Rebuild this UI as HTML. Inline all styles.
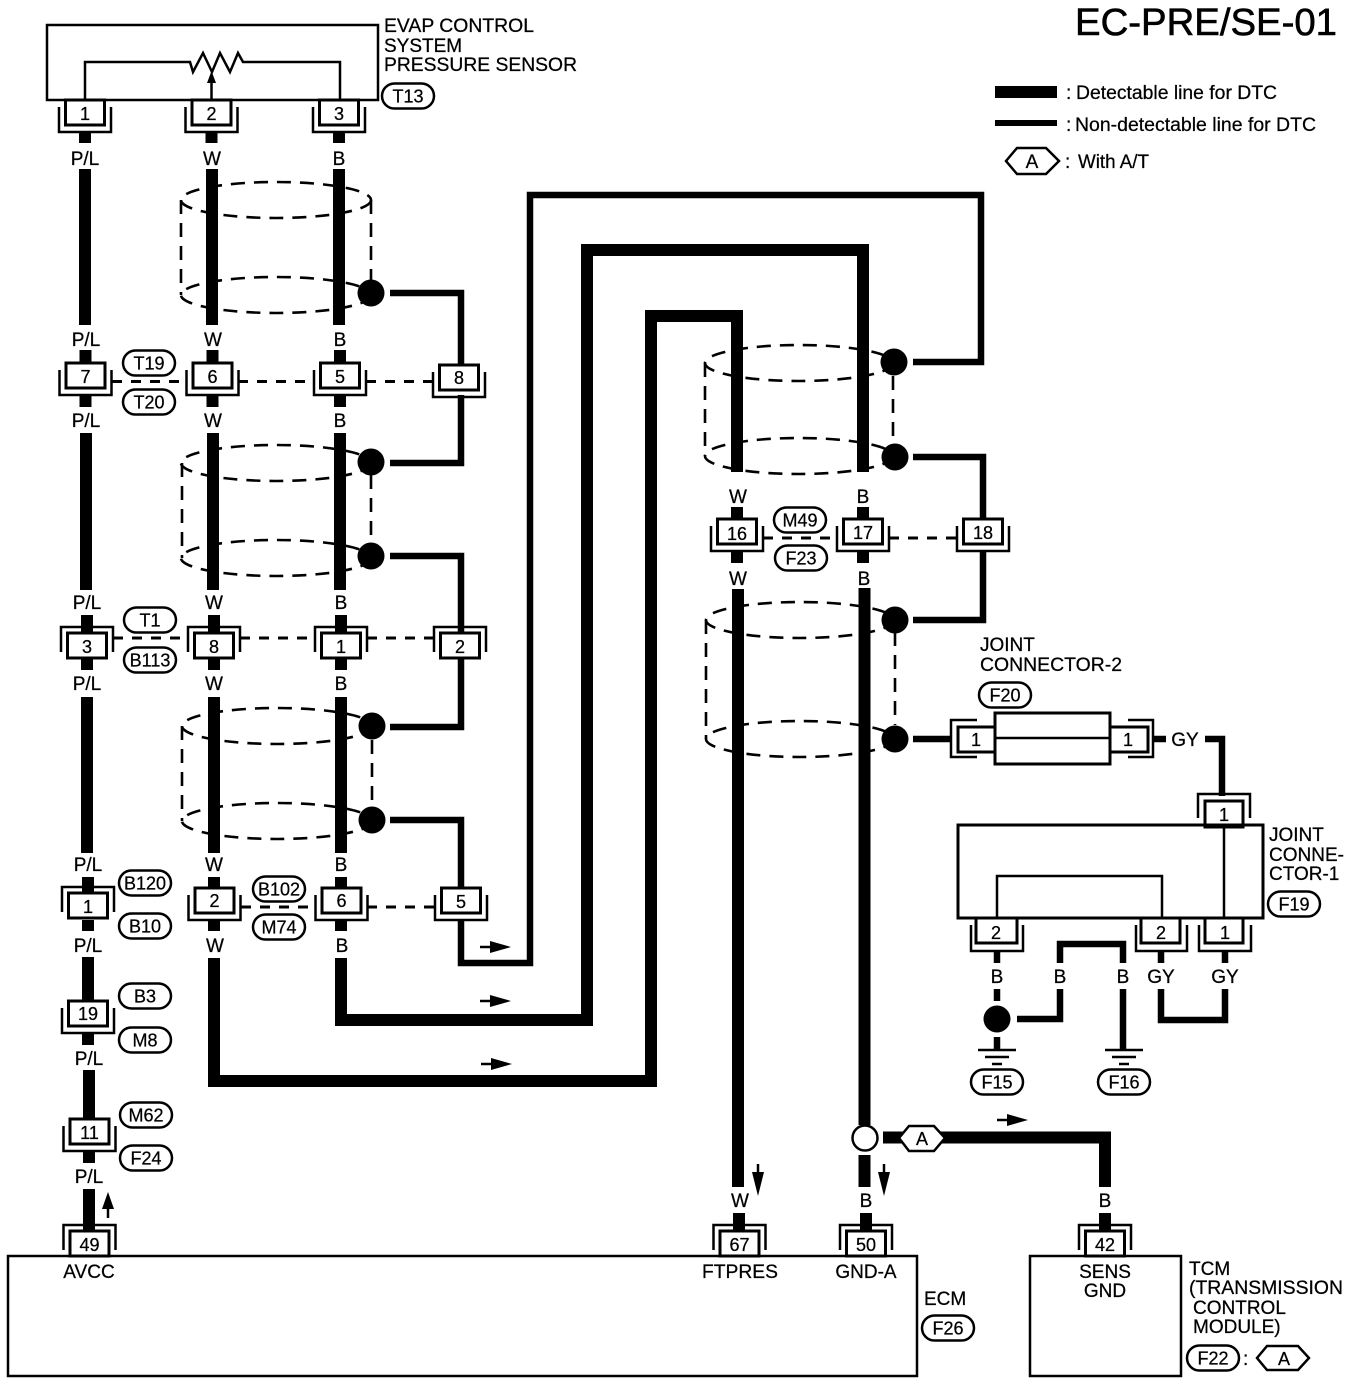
<!DOCTYPE html>
<html><head><meta charset="utf-8"><title>EC-PRE/SE-01</title>
<style>
html,body{margin:0;padding:0;background:#fff}
svg{display:block}
text{font-family:"Liberation Sans",sans-serif;font-size:19px;fill:#000;stroke:#000;stroke-width:.25}
.m{text-anchor:middle}
.n{text-anchor:middle;font-size:18px}
.p{text-anchor:middle;font-size:18px}
.sh{fill:none;stroke:#000;stroke-width:2.6;stroke-dasharray:14 9}
.d{fill:none;stroke:#000;stroke-width:3;stroke-dasharray:10 9}
.t{fill:none;stroke:#000;stroke-width:12;stroke-linejoin:miter}
.o{fill:none;stroke:#000;stroke-width:6.5;stroke-linejoin:miter}
.l{fill:none;stroke:#000;stroke-width:2.5}
.pill{fill:#fff;stroke:#000;stroke-width:2.5}
</style></head>
<body>
<svg width="1360" height="1384" viewBox="0 0 1360 1384" xmlns="http://www.w3.org/2000/svg">
<defs>
<g id="cn"><path d="M-26 7V32H26V7" fill="none" stroke="#000" stroke-width="2.5"/><rect x="-19.5" y="0" width="39" height="25" fill="#fff" stroke="#000" stroke-width="3"/></g>
<g id="ci"><path d="M-26 19V-6H26V19" fill="none" stroke="#000" stroke-width="2.5"/><rect x="-19.5" y="0" width="39" height="25" fill="#fff" stroke="#000" stroke-width="3"/></g>
<rect id="pl" x="-26" y="-12.5" width="52" height="25" rx="12.5" ry="12.5" class="pill"/>
<g id="ar"><path d="M0 0H14" stroke="#000" stroke-width="2.5"/><path d="M10 -6L31 0L10 6Z" fill="#000"/></g>
<path id="gnd" d="M-19 0H19M-12 7H12M-5 14H5" stroke="#000" stroke-width="2.5" fill="none"/>
</defs>

<!-- title and legend -->
<text x="1075" y="35" style="font-size:38px;stroke-width:.6" textLength="262" lengthAdjust="spacingAndGlyphs">EC-PRE/SE-01</text>
<rect x="995" y="86" width="62" height="12"/>
<rect x="995" y="120" width="62" height="6"/>
<text x="1066" y="99">:</text>
<text x="1076" y="99" textLength="201" lengthAdjust="spacingAndGlyphs">Detectable line for DTC</text>
<text x="1066" y="131">:</text>
<text x="1075" y="131" textLength="241" lengthAdjust="spacingAndGlyphs">Non-detectable line for DTC</text>
<path d="M1006 161L1017 148H1046L1059 161L1046 174H1017Z" class="pill"/>
<text x="1032" y="168" class="m">A</text>
<text x="1065" y="168">:</text>
<text x="1078" y="168" textLength="71" lengthAdjust="spacingAndGlyphs">With A/T</text>

<!-- sensor -->
<rect x="47" y="25" width="331" height="75" fill="none" stroke="#000" stroke-width="2.5"/>
<path d="M85 100V62H190L193 72L203 53L212 72L220 53L230 72L238 53L243 62H340V100" class="l"/>
<path d="M211.5 100V80" stroke="#000" stroke-width="2.5"/>
<path d="M211.5 71L207 83H216Z" fill="#000"/>
<text x="384" y="32" textLength="150" lengthAdjust="spacingAndGlyphs">EVAP CONTROL</text>
<text x="384" y="52">SYSTEM</text>
<text x="384" y="71" textLength="193" lengthAdjust="spacingAndGlyphs">PRESSURE SENSOR</text>

<!-- shields left -->
<g>
<ellipse cx="276" cy="200" rx="95" ry="18" class="sh"/><ellipse cx="276" cy="295" rx="95" ry="18" class="sh"/>
<path d="M181 200V295M371 200V280" class="sh"/>
<ellipse cx="276" cy="463" rx="95" ry="18" class="sh"/><ellipse cx="276" cy="558" rx="95" ry="18" class="sh"/>
<path d="M182 463V558M371 475V545" class="sh"/>
<ellipse cx="277" cy="726" rx="95" ry="18" class="sh"/><ellipse cx="277" cy="821" rx="95" ry="18" class="sh"/>
<path d="M182 726V821M372 740V808" class="sh"/>
<!-- shields right -->
<ellipse cx="799" cy="363" rx="94" ry="18" class="sh"/><ellipse cx="799" cy="456" rx="94" ry="18" class="sh"/>
<path d="M705 363V456M893 376V444" class="sh"/>
<ellipse cx="800" cy="620" rx="94" ry="18" class="sh"/><ellipse cx="800" cy="739" rx="94" ry="18" class="sh"/>
<path d="M706 620V739M895 632V725" class="sh"/>
</g>

<!-- dashed between connectors -->
<path d="M112 381.5H186M238 381.5H314M366 381.5H434" class="d"/>
<path d="M113 638H187M240 638H315M367 638H434" class="d"/>
<path d="M241 907H315M367 907H435" class="d"/>
<path d="M763 538H837M889 538H957" class="d"/>

<!-- column P/L -->
<path d="M85 132V143M85 169V325M85.5 350V363M85.5 395V407M86 433V590M87 615V633M87 658V670M87 697V853M88 877V893M88 920V931M88 957V1001M88 1032V1045M89 1070V1119M89 1152V1163M89 1189V1230" class="t"/>
<!-- column W -->
<path d="M211.5 132V143M212 169V325M212.5 350V363M212.5 395V407M213 433V590M214 615V633M214 658V670M214 697V853M214 877V888M214 920V931" class="t"/>
<!-- column B -->
<path d="M339 132V143M339 169V325M340 350V363M340 395V407M340 433V590M341 615V633M341 658V670M341 697V853M341 877V888M341 920V931" class="t"/>

<!-- long runs -->
<path d="M461 920V963H530V195H981V362H913" class="o"/>
<path d="M341 958V1020H587V250H863V472" class="t"/>
<path d="M214 958V1081H651V316H737V472" class="t"/>
<path d="M737 507V519M737 551V563M863 507V519M863 551V563" class="t"/>
<path d="M738 589V1187M864.5 588V1125M864.5 1155V1187" class="t"/>
<path d="M739 1213V1232M866 1213V1232M1105 1213V1232" class="t"/>
<path d="M883 1137.5H1105V1187" class="t"/>

<!-- shield drains -->
<path d="M390 293H461V366" class="o"/>
<path d="M390 463H461V395" class="o"/>
<path d="M390 556H461V635" class="o"/>
<path d="M390 727H461V655" class="o"/>
<path d="M390 820H461V892" class="o"/>
<path d="M913 457H983V520" class="o"/>
<path d="M983 550V620H913" class="o"/>
<path d="M913 739H952" class="o"/>
<circle cx="371" cy="293" r="13.5"/><circle cx="371" cy="462" r="13.5"/><circle cx="371" cy="556" r="13.5"/>
<circle cx="372" cy="726" r="13.5"/><circle cx="372" cy="820" r="13.5"/>
<circle cx="894" cy="362" r="13.5"/><circle cx="895" cy="457" r="13.5"/>
<circle cx="895" cy="620" r="13.5"/><circle cx="895" cy="739" r="13.5"/>

<!-- connectors -->
<use href="#cn" x="85" y="100"/><use href="#cn" x="211.5" y="100"/><use href="#cn" x="339" y="100"/>
<use href="#cn" x="85.5" y="363"/><use href="#cn" x="212.5" y="363"/><use href="#cn" x="340" y="363"/><use href="#cn" x="459" y="365"/>
<use href="#ci" x="87" y="633"/><use href="#ci" x="214" y="633"/><use href="#ci" x="341" y="633"/><use href="#ci" x="460" y="633"/>
<use href="#ci" x="88" y="893"/><use href="#cn" x="214.5" y="888"/><use href="#cn" x="341.5" y="888"/><use href="#cn" x="461" y="888"/>
<use href="#cn" x="88" y="1001"/><use href="#cn" x="89.5" y="1119"/><use href="#ci" x="89.5" y="1231"/>
<use href="#cn" x="737" y="519"/><use href="#cn" x="863" y="519"/><use href="#cn" x="983" y="519"/>
<use href="#ci" x="739.5" y="1231"/><use href="#ci" x="866" y="1231"/><use href="#ci" x="1105" y="1231"/>

<!-- connector numbers -->
<g>
<text x="85" y="120" class="n">1</text><text x="211.5" y="120" class="n">2</text><text x="339" y="120" class="n">3</text>
<text x="85.5" y="383" class="n">7</text><text x="212.5" y="383" class="n">6</text><text x="340" y="383" class="n">5</text><text x="459" y="384" class="n">8</text>
<text x="87" y="653" class="n">3</text><text x="214" y="653" class="n">8</text><text x="341" y="653" class="n">1</text><text x="460" y="653" class="n">2</text>
<text x="88" y="913" class="n">1</text><text x="214.5" y="907" class="n">2</text><text x="341.5" y="907" class="n">6</text><text x="461" y="908" class="n">5</text>
<text x="88" y="1020" class="n">19</text><text x="89.5" y="1139" class="n">11</text><text x="89.5" y="1251" class="n">49</text>
<text x="737" y="540" class="n">16</text><text x="863" y="539" class="n">17</text><text x="983" y="539" class="n">18</text>
<text x="739.5" y="1251" class="n">67</text><text x="866" y="1251" class="n">50</text><text x="1105" y="1251" class="n">42</text>
</g>

<!-- wire labels -->
<g class="m" text-anchor="middle">
<text x="85" y="165" text-anchor="middle">P/L</text><text x="212" y="165" text-anchor="middle">W</text><text x="339" y="165" text-anchor="middle">B</text>
<text x="86" y="346" text-anchor="middle">P/L</text><text x="213" y="346" text-anchor="middle">W</text><text x="340" y="346" text-anchor="middle">B</text>
<text x="86" y="427" text-anchor="middle">P/L</text><text x="213" y="427" text-anchor="middle">W</text><text x="340" y="427" text-anchor="middle">B</text>
<text x="87" y="609" text-anchor="middle">P/L</text><text x="214" y="609" text-anchor="middle">W</text><text x="341" y="609" text-anchor="middle">B</text>
<text x="87" y="690" text-anchor="middle">P/L</text><text x="214" y="690" text-anchor="middle">W</text><text x="341" y="690" text-anchor="middle">B</text>
<text x="88" y="871" text-anchor="middle">P/L</text><text x="214" y="871" text-anchor="middle">W</text><text x="341" y="871" text-anchor="middle">B</text>
<text x="88" y="952" text-anchor="middle">P/L</text><text x="215" y="952" text-anchor="middle">W</text><text x="342" y="952" text-anchor="middle">B</text>
<text x="89" y="1065" text-anchor="middle">P/L</text><text x="89" y="1183" text-anchor="middle">P/L</text>
<text x="738" y="503" text-anchor="middle">W</text><text x="863" y="503" text-anchor="middle">B</text>
<text x="738" y="585" text-anchor="middle">W</text><text x="864" y="585" text-anchor="middle">B</text>
<text x="740" y="1207" text-anchor="middle">W</text><text x="866" y="1207" text-anchor="middle">B</text><text x="1105" y="1207" text-anchor="middle">B</text>
<text x="1185" y="746" text-anchor="middle">GY</text>
<text x="997" y="983" text-anchor="middle">B</text><text x="1060" y="983" text-anchor="middle">B</text><text x="1123" y="983" text-anchor="middle">B</text>
<text x="1161" y="983" text-anchor="middle">GY</text><text x="1225" y="983" text-anchor="middle">GY</text>
</g>

<!-- pills -->
<use href="#pl" x="408" y="96"/><text x="408" y="102.500" class="p">T13</text>
<use href="#pl" x="149" y="363"/><text x="149" y="369.500" class="p">T19</text>
<use href="#pl" x="149" y="402"/><text x="149" y="408.500" class="p">T20</text>
<use href="#pl" x="150" y="620"/><text x="150" y="626.500" class="p">T1</text>
<use href="#pl" x="150" y="660"/><text x="150" y="666.500" class="p">B113</text>
<use href="#pl" x="145" y="883"/><text x="145" y="889.500" class="p">B120</text>
<use href="#pl" x="145" y="926"/><text x="145" y="932.500" class="p">B10</text>
<use href="#pl" x="279" y="889"/><text x="279" y="895.500" class="p">B102</text>
<use href="#pl" x="279" y="927"/><text x="279" y="933.500" class="p">M74</text>
<use href="#pl" x="145" y="996"/><text x="145" y="1002.500" class="p">B3</text>
<use href="#pl" x="145" y="1040"/><text x="145" y="1046.500" class="p">M8</text>
<use href="#pl" x="146" y="1115"/><text x="146" y="1121.500" class="p">M62</text>
<use href="#pl" x="146" y="1158"/><text x="146" y="1164.500" class="p">F24</text>
<use href="#pl" x="800" y="520"/><text x="800" y="526.500" class="p">M49</text>
<use href="#pl" x="801" y="558"/><text x="801" y="564.500" class="p">F23</text>
<use href="#pl" x="1005" y="695"/><text x="1005" y="701.500" class="p">F20</text>
<use href="#pl" x="1294" y="904"/><text x="1294" y="910.500" class="p">F19</text>
<use href="#pl" x="997" y="1082"/><text x="997" y="1088.500" class="p">F15</text>
<use href="#pl" x="1124" y="1082"/><text x="1124" y="1088.500" class="p">F16</text>
<use href="#pl" x="948" y="1328"/><text x="948" y="1334.500" class="p">F26</text>
<use href="#pl" x="1213" y="1358"/><text x="1213" y="1364.500" class="p">F22</text>
<text x="1243" y="1365">:</text>
<path d="M1257 1358L1267 1346H1298L1309 1358L1298 1370H1267Z" class="pill"/>
<text x="1284" y="1365" class="n">A</text>

<!-- F20 joint connector 2 -->
<path d="M977 720H951V757H977" class="l"/>
<rect x="958" y="727" width="40" height="25" fill="#fff" stroke="#000" stroke-width="3"/>
<path d="M1128 720H1153V757H1128" class="l"/>
<rect x="1108" y="727" width="40" height="25" fill="#fff" stroke="#000" stroke-width="3"/>
<rect x="995" y="713" width="115" height="51" fill="#fff" stroke="#000" stroke-width="3"/>
<path d="M995 738H1110" class="l"/>
<text x="976" y="746" class="n">1</text><text x="1128" y="746" class="n">1</text>
<path d="M1153 739H1166" class="o"/>
<path d="M1205 739H1222V796" class="o"/>
<text x="980" y="651">JOINT</text>
<text x="980" y="671" textLength="142" lengthAdjust="spacingAndGlyphs">CONNECTOR-2</text>

<!-- joint connector 1 -->
<path d="M1198 818V794H1250V818" class="l"/>
<path d="M971 925V951H1023V925M1136 925V951H1187V925M1199 925V951H1251V925" class="l"/>
<rect x="1205" y="801" width="38" height="26" fill="#fff" stroke="#000" stroke-width="3"/>
<rect x="976" y="918" width="41" height="25" fill="#fff" stroke="#000" stroke-width="3"/>
<rect x="1141" y="918" width="39" height="25" fill="#fff" stroke="#000" stroke-width="3"/>
<rect x="1205" y="918" width="38" height="25" fill="#fff" stroke="#000" stroke-width="3"/>
<rect x="958" y="825" width="305" height="93" fill="none" stroke="#000" stroke-width="3"/>
<path d="M997 918V876H1162V918M1224 825V918" class="l"/>
<text x="1224" y="821" class="n">1</text><text x="996" y="939" class="n">2</text><text x="1161" y="939" class="n">2</text><text x="1225" y="939" class="n">1</text>
<text x="1269" y="841">JOINT</text>
<text x="1269" y="861">CONNE-</text>
<text x="1269" y="880">CTOR-1</text>
<path d="M997 951V963M997 989V1001M997 1037V1050" class="o"/>
<circle cx="997" cy="1019" r="13.500"/>
<path d="M1017 1019H1060V989" class="o"/>
<path d="M1060 963V944H1123V963" class="o"/>
<path d="M1123 989V1050" class="o"/>
<path d="M1161 951V963M1225 951V963" class="o"/>
<path d="M1161 989V1020H1225V989" class="o"/>
<use href="#gnd" x="997" y="1050"/><use href="#gnd" x="1124" y="1050"/>

<!-- circle and hex on GND -->
<circle cx="865" cy="1138" r="12.500" fill="#fff" stroke="#000" stroke-width="2.500"/>
<path d="M899 1138L909 1126H934L945 1138L934 1151H909Z" class="pill"/>
<text x="922" y="1145" class="n">A</text>

<!-- flow arrows -->
<use href="#ar" x="480" y="947"/><use href="#ar" x="480" y="1001"/><use href="#ar" x="481" y="1064"/>
<use href="#ar" x="997" y="1120"/>
<path d="M758 1164V1178" stroke="#000" stroke-width="2.5"/><path d="M752 1172H764L758 1196Z"/>
<path d="M884 1164V1178" stroke="#000" stroke-width="2.5"/><path d="M878 1172H890L884 1196Z"/>
<path d="M108 1203V1218" stroke="#000" stroke-width="2.5"/><path d="M102 1209H114L108 1192Z"/>

<!-- ECM / TCM -->
<path d="M8 1256H917V1376H8Z" fill="none" stroke="#000" stroke-width="2.500"/>
<path d="M1030 1256H1181V1376H1030Z" fill="none" stroke="#000" stroke-width="2.500"/>
<text x="89" y="1278" class="m">AVCC</text>
<text x="740" y="1278" class="m" textLength="76" lengthAdjust="spacingAndGlyphs">FTPRES</text>
<text x="866" y="1278" class="m">GND-A</text>
<text x="1105" y="1278" class="m">SENS</text>
<text x="1105" y="1297" class="m">GND</text>
<text x="924" y="1305">ECM</text>
<text x="1189" y="1275">TCM</text>
<text x="1189" y="1294" textLength="154" lengthAdjust="spacingAndGlyphs">(TRANSMISSION</text>
<text x="1193" y="1314">CONTROL</text>
<text x="1193" y="1333">MODULE)</text>
</svg>
</body></html>
